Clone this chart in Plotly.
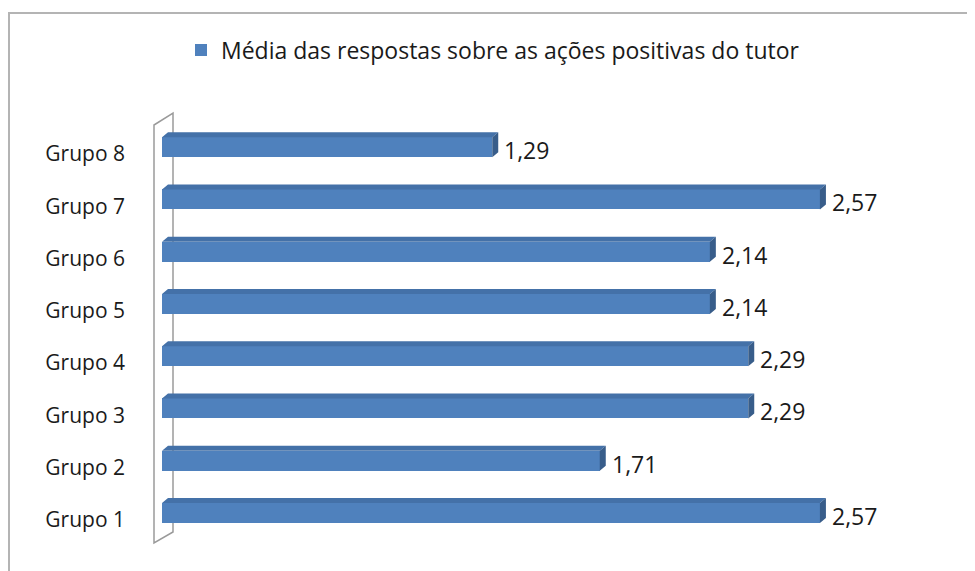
import plotly.graph_objects as go

# ---- data ----
categories = ["Grupo 1", "Grupo 2", "Grupo 3", "Grupo 4", "Grupo 5", "Grupo 6", "Grupo 7", "Grupo 8"]
values = [2.57, 1.71, 2.29, 2.29, 2.14, 2.14, 2.57, 1.29]
series_name = "Média das respostas sobre as ações positivas do tutor"

# ---- geometry helpers (screen pixels -> paper); page body has an 8px margin ----
OFF = 8
W, H = 975, 571
L, R, T, B = 162 - OFF, 53, 121 - OFF, 40
PW, PH = W - L - R, H - T - B
XMAX = 3.0
NCAT = len(categories)


def px(xp):
    return (xp - OFF - L) / PW


def py(yp):
    return (H - B - (yp - OFF)) / PH


pos = list(range(1, NCAT + 1))
bar_h = 20 / (PH / NCAT)
dx = 6 / (PW / XMAX)
dy = 5 / (PH / NCAT)

FRONT = "#4F81BD"
TOP = "#4471A8"
SIDE = "#385D8A"
FONT = "Open Sans"
TXT = "#1a1a1a"

fig = go.Figure()

# front faces
fig.add_trace(go.Bar(
    x=values, y=pos, orientation="h", width=bar_h,
    marker=dict(color=FRONT, line=dict(width=0)),
    name=series_name, showlegend=True,
))

# top and side faces (3D look), computed from the data
tx, ty, sx, sy = [], [], [], []
for v, p in zip(values, pos):
    top = p + bar_h / 2
    bot = p - bar_h / 2
    tx += [0, v, v + dx, dx, 0, None]
    ty += [top, top, top + dy, top + dy, top, None]
    sx += [v, v + dx, v + dx, v, v, None]
    sy += [bot, bot + dy, top + dy, top, bot, None]
fig.add_trace(go.Scatter(x=tx, y=ty, mode="lines", fill="toself", fillcolor=TOP,
                         line=dict(width=0, color=TOP), showlegend=False, hoverinfo="skip"))
fig.add_trace(go.Scatter(x=sx, y=sy, mode="lines", fill="toself", fillcolor=SIDE,
                         line=dict(width=0, color=SIDE), showlegend=False, hoverinfo="skip"))

# data labels
for v, p in zip(values, pos):
    fig.add_annotation(x=v, y=p, xref="x", yref="y", text=f"{v:.2f}".replace(".", ","),
                       showarrow=False, xanchor="left", yanchor="middle", xshift=10, yshift=-3,
                       font=dict(family=FONT, size=23, color=TXT))

shapes = [
    # side wall
    dict(type="path", xref="paper", yref="paper", layer="below",
         path=f"M {px(154)},{py(125)} L {px(173)},{py(113)} L {px(173)},{py(532)} L {px(154)},{py(543)} Z",
         line=dict(color="#9a9a9a", width=1.5), fillcolor="white"),
    # outer frame
    dict(type="rect", xref="paper", yref="paper", layer="below",
         x0=px(9), y0=py(H + 30), x1=px(W + 30), y1=py(13),
         line=dict(color="#b4b4b4", width=2), fillcolor="rgba(0,0,0,0)"),
]

fig.update_layout(
    width=W, height=H,
    margin=dict(l=L, r=R, t=T, b=B),
    paper_bgcolor="white", plot_bgcolor="rgba(0,0,0,0)",
    showlegend=True,
    legend=dict(orientation="h", x=px(493), y=py(50), xanchor="center", yanchor="middle",
                font=dict(family=FONT, size=23, color=TXT), bgcolor="rgba(0,0,0,0)",
                itemwidth=30),
    xaxis=dict(range=[0, XMAX], visible=False, fixedrange=True),
    yaxis=dict(range=[0.5, NCAT + 0.5], tickvals=[p - 0.13 for p in pos], ticktext=categories,
               showgrid=False, zeroline=False, showline=False, ticks="",
               ticklabelstandoff=36,
               tickfont=dict(family=FONT, size=21, color=TXT)),
    shapes=shapes,
    bargap=0,
)

fig.write_html("out.html")
